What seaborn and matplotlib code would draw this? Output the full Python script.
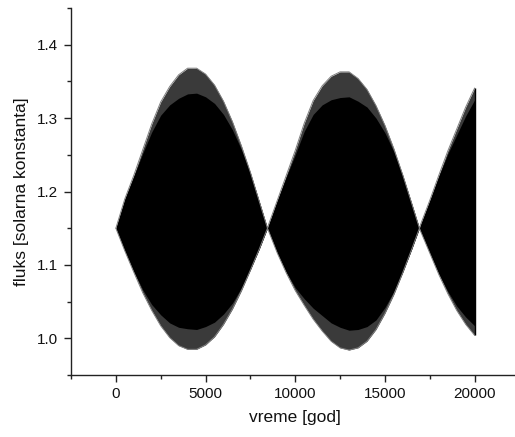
import numpy as np
import pandas as pd
import matplotlib
matplotlib.use("Agg")
import matplotlib.pyplot as plt
from matplotlib.ticker import MultipleLocator
import seaborn as sns

# time [years]
t = [0, 500, 1000, 1500, 2000, 2500, 3000, 3500, 4000, 4500, 5000, 5500, 6000,
     6500, 7000, 7500, 8000, 8450,
     8500, 9000, 9500, 10000, 10500, 11000, 11500, 12000, 12500, 13000, 13500,
     14000, 14500, 15000, 15500, 16000, 16500, 16920,
     17000, 17500, 18000, 18500, 19000, 19500, 20000]

# outer (maximum) envelope of the flux oscillation
upper_outer = [1.150, 1.190, 1.222, 1.257, 1.292, 1.322, 1.343, 1.359, 1.368, 1.368,
               1.360, 1.345, 1.323, 1.295, 1.262, 1.226, 1.186, 1.150,
               1.154, 1.188, 1.222, 1.256, 1.293, 1.324, 1.344, 1.357, 1.363, 1.363,
               1.354, 1.339, 1.317, 1.290, 1.258, 1.222, 1.183, 1.150,
               1.156, 1.188, 1.222, 1.255, 1.285, 1.315, 1.341]
lower_outer = [1.150, 1.119, 1.090, 1.062, 1.038, 1.017, 1.001, 0.990, 0.985, 0.985,
               0.991, 1.002, 1.019, 1.040, 1.065, 1.093, 1.122, 1.150,
               1.147, 1.116, 1.089, 1.065, 1.045, 1.026, 1.010, 0.996, 0.987, 0.984,
               0.987, 0.996, 1.012, 1.034, 1.060, 1.090, 1.122, 1.150,
               1.145, 1.116, 1.087, 1.061, 1.038, 1.019, 1.004]

# solid (dense) part of the oscillation band
upper_inner = [1.150, 1.190, 1.221, 1.252, 1.281, 1.304, 1.318, 1.327, 1.333, 1.334,
               1.329, 1.320, 1.305, 1.284, 1.257, 1.225, 1.186, 1.150,
               1.154, 1.188, 1.220, 1.250, 1.282, 1.305, 1.318, 1.325, 1.328, 1.329,
               1.323, 1.315, 1.300, 1.280, 1.254, 1.221, 1.183, 1.150,
               1.156, 1.188, 1.221, 1.251, 1.277, 1.303, 1.325]
lower_inner = [1.150, 1.119, 1.091, 1.066, 1.046, 1.032, 1.021, 1.015, 1.013, 1.012,
               1.016, 1.022, 1.033, 1.048, 1.069, 1.094, 1.122, 1.150,
               1.147, 1.116, 1.090, 1.069, 1.054, 1.041, 1.031, 1.021, 1.015, 1.011,
               1.012, 1.016, 1.025, 1.042, 1.064, 1.091, 1.122, 1.150,
               1.145, 1.116, 1.088, 1.064, 1.044, 1.029, 1.017]

xlabel = "vreme [god]"
ylabel = "fluks [solarna konstanta]"

df = pd.DataFrame({"t": t, "uo": upper_outer, "lo": lower_outer,
                   "ui": upper_inner, "li": lower_inner})

sns.set_theme(style="ticks")
plt.rcParams["font.family"] = ["Liberation Sans", "DejaVu Sans"]

W, H = 515, 437
fig = plt.figure(figsize=(W / 100, H / 100), dpi=100)
ax = fig.add_axes([71 / W, (H - 375) / H, 448.5 / W, (375 - 8) / H])

ax.fill_between(df["t"], df["lo"], df["uo"], color="#3a3a3a", linewidth=0, zorder=2)
ax.fill_between(df["t"], df["li"], df["ui"], color="black", linewidth=0, zorder=3)
sns.lineplot(data=df, x="t", y="uo", ax=ax, color="#808080", linewidth=0.7, zorder=4)
sns.lineplot(data=df, x="t", y="lo", ax=ax, color="#808080", linewidth=0.7, zorder=4)
ax.vlines(df["t"].iloc[-1], df["lo"].iloc[-1], df["uo"].iloc[-1], color="black",
          linewidth=1.0, zorder=5)

ax.set_xlim(-2500, 22500)
ax.set_ylim(0.95, 1.45)
ax.xaxis.set_minor_locator(MultipleLocator(2500))
ax.yaxis.set_minor_locator(MultipleLocator(0.05))
ax.set_xticks([0, 5000, 10000, 15000, 20000])
ax.set_xticklabels(["0", "5000", "10000", "15000", "20000"])
ax.set_yticks([1.0, 1.1, 1.2, 1.3, 1.4])
ax.set_yticklabels(["1.0", "1.1", "1.2", "1.3", "1.4"])

for side in ["top", "right"]:
    ax.spines[side].set_visible(False)
for side in ["left", "bottom"]:
    ax.spines[side].set_color("#222222")
    ax.spines[side].set_linewidth(1.0)

ax.tick_params(axis="both", which="major", direction="out", length=5, width=1.0,
               color="#222222", labelsize=11, labelcolor="#111111", pad=4)
ax.tick_params(axis="both", which="minor", direction="out", length=3, width=1.0,
               color="#222222")

ax.set_xlabel(xlabel, fontsize=12.5, color="#111111", labelpad=6)
ax.set_ylabel(ylabel, fontsize=12.5, color="#111111", labelpad=6)
ax.grid(False)

fig.savefig("out.png", dpi=100)
